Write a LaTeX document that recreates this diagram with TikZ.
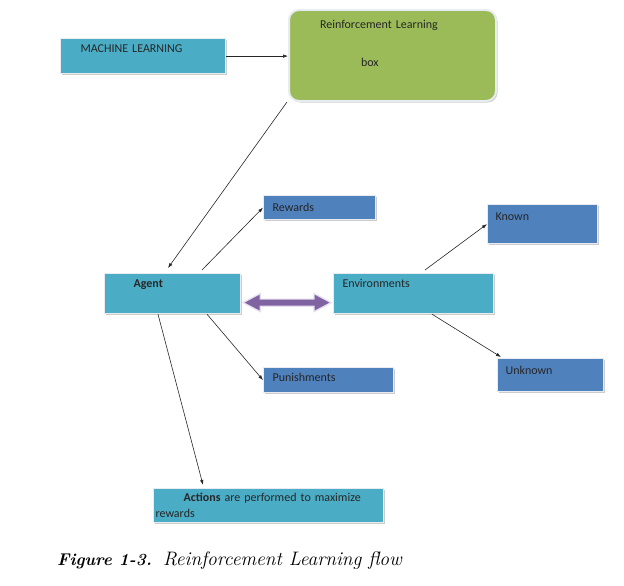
\documentclass[tikz,border=0pt]{standalone}
\usepackage{fontspec}
\newfontfamily\boxfont{Carlito}
\usetikzlibrary{arrows.meta,calc,shadows}
\definecolor{cyanbox}{HTML}{4BACC6}
\definecolor{bluebox}{HTML}{4F81BD}
\definecolor{greenbox}{HTML}{9BBB59}
\definecolor{purplearr}{HTML}{8064A2}
\definecolor{edgecol}{HTML}{E8ECF2}
\definecolor{arredge}{HTML}{E4DDF0}
\begin{document}
\begin{tikzpicture}[x=1pt,y=-1pt,
  box/.style={anchor=north west, inner ysep=0pt, align=left,
    font=\boxfont\fontsize{12}{16}\selectfont, text=black!85,
    draw=edgecol, line width=1.2pt,
    drop shadow={shadow xshift=1.5pt,shadow yshift=-1.5pt,fill=black!40,opacity=0.5}},
  conn/.style={draw=black!85, line width=0.6pt, -{Latex[length=5pt,width=3.5pt]}}]
\useasboundingbox (0,0) rectangle (624,586);

\node[box, fill=cyanbox, inner xsep=20pt, text width=125pt, text height=14pt, text depth=21pt] (ml) at (60,38) {MACHINE LEARNING};
\node[box, fill=greenbox, rounded corners=10pt, line width=2pt, inner xsep=31pt, text width=145pt, text height=19pt, text depth=72pt] (rl) at (288,9) {Reinforcement Learning\\[22pt]\hspace*{41pt}box};
\node[box, fill=cyanbox, inner xsep=29pt, text width=78pt, text height=14pt, text depth=26pt] (agent) at (104,273) {\textbf{Agent}};
\node[box, fill=cyanbox, inner xsep=9pt, text width=142pt, text height=14pt, text depth=26pt] (env) at (333,273) {Environments};
\node[box, fill=bluebox, inner xsep=9pt, text width=94pt, text height=16pt, text depth=8pt] (rew) at (263,195) {Rewards};
\node[box, fill=bluebox, inner xsep=8pt, text width=94pt, text height=16pt, text depth=23pt] (known) at (487,204) {Known};
\node[box, fill=bluebox, inner xsep=8pt, text width=90pt, text height=16pt, text depth=17pt] (unknown) at (497,358) {Unknown};
\node[box, fill=bluebox, inner xsep=9pt, text width=112pt, text height=14pt, text depth=11pt] (pun) at (263,367) {Punishments};
\node[box, fill=cyanbox, inner xsep=2pt, text width=226pt, text height=13pt, text depth=21pt] (act) at (153,488) {\hspace*{28pt}\textbf{Actions} are performed to maximize\\rewards};

\draw[conn] (ml.east) -- (ml.east -| rl.west);
\draw[conn] ([xshift=-1pt]rl.south west) -- ([xshift=64pt,yshift=5pt]agent.north west);
\draw[conn] ([xshift=98pt,yshift=3pt]agent.north west) -- (rew.west);
\draw[conn] ([xshift=103pt]agent.south west) -- (pun.west);
\draw[conn] ([xshift=54pt]agent.south west) -- ([xshift=50pt,yshift=3pt]act.north west);
\draw[conn] ([xshift=92pt,yshift=3pt]env.north west) -- (known.west);
\draw[conn] ([xshift=99pt]env.south west) -- ([xshift=4pt,yshift=1pt]unknown.north west);

\coordinate (dl) at ([xshift=2pt,yshift=-9pt]agent.east);
\coordinate (dr) at ([xshift=-2pt,yshift=-9pt]env.west);
\draw[fill=purplearr, draw=arredge, line width=1.2pt, line join=miter]
  (dl) -- ($(dl)+(17,-9)$) -- ($(dl)+(17,-3.5)$) -- ($(dr)+(-17,-3.5)$) -- ($(dr)+(-17,-9)$)
  -- (dr) -- ($(dr)+(-17,9)$) -- ($(dr)+(-17,3.5)$) -- ($(dl)+(17,3.5)$) -- ($(dl)+(17,9)$) -- cycle;

\node[anchor=base west, inner sep=0pt] (cap) at (57,565)
  {\fontsize{17}{20}\selectfont\textbf{\textit{Figure 1-3.}}\hspace{11pt}\fontsize{19.5}{22}\selectfont\textit{Reinforcement Learning flow}};
\end{tikzpicture}
\end{document}
